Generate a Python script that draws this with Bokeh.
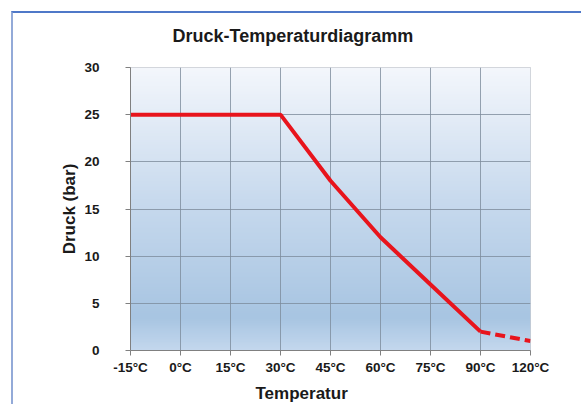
import numpy as np
from bokeh.plotting import figure
from bokeh.models import Range1d, FixedTicker, Title
from bokeh.embed import file_html
from bokeh.resources import INLINE

# data
temp_labels = ["-15°C", "0°C", "15°C", "30°C", "45°C", "60°C", "75°C", "90°C", "120°C"]
temp_pos = list(range(len(temp_labels)))
pressure_solid = [25, 25, 25, 25, 18, 12, 7, 2]
pressure_dashed = [2, 1]
y_ticks = [0, 5, 10, 15, 20, 25, 30]

FONT = "Liberation Sans"

p = figure(width=570, height=393, output_backend="svg", toolbar_location=None,
           x_range=Range1d(0, 8), y_range=Range1d(0, 30),
           min_border_left=117, min_border_top=54, min_border_bottom=56, min_border_right=53)
p.styles = {"margin-left": "11px", "margin-top": "11px",
            "border-left": "2px solid #93aad8", "border-top": "2px solid #4f78c8"}

# gradient background
n = 300
yy = np.linspace(0, 30, n)
stops_y = [0, 3.5, 16, 30]
stops_c = [(0xc4, 0xd8, 0xee), (0xa8, 0xc5, 0xe2), (0xc8, 0xda, 0xee), (0xf4, 0xf7, 0xfc)]
img = np.zeros((n, 1), dtype=np.uint32)
view = img.view(dtype=np.uint8).reshape((n, 1, 4))
for ch in range(3):
    view[:, 0, ch] = np.interp(yy, stops_y, [c[ch] for c in stops_c]).astype(np.uint8)
view[:, 0, 3] = 255
p.image_rgba(image=[img], x=0, y=0, dw=8, dh=30, level="image")

p.line(temp_pos[:8], pressure_solid, line_color="#e8141c", line_width=4)
p.line(temp_pos[7:], pressure_dashed, line_color="#e8141c", line_width=4, line_dash="10 5")

p.xaxis.ticker = FixedTicker(ticks=temp_pos)
p.xaxis.major_label_overrides = {i: t for i, t in zip(temp_pos, temp_labels)}
p.yaxis.ticker = FixedTicker(ticks=y_ticks)
p.xgrid.ticker = FixedTicker(ticks=temp_pos)
p.ygrid.ticker = FixedTicker(ticks=y_ticks)
p.grid.grid_line_color = "#7d8c9c"
p.grid.grid_line_alpha = 0.8
p.grid.grid_line_width = 1
p.grid.level = "underlay"

for ax in (p.xaxis, p.yaxis):
    ax.axis_line_color = "#808080"
    ax.major_tick_line_color = "#808080"
    ax.minor_tick_line_color = None
    ax.major_tick_out = 5
    ax.major_tick_in = 0
    ax.major_label_text_font = FONT
    ax.major_label_text_font_style = "bold"
    ax.major_label_text_font_size = "13.5px"
    ax.major_label_text_color = "#1a1a1a"
p.xaxis.major_label_standoff = 4
p.yaxis.major_label_standoff = 26

p.yaxis.axis_label = "Druck (bar)"
p.yaxis.axis_label_text_font = FONT
p.yaxis.axis_label_text_font_style = "bold"
p.yaxis.axis_label_text_font_size = "17px"
p.yaxis.axis_label_text_color = "#1a1a1a"
p.yaxis.axis_label_standoff = 2

p.outline_line_color = "#c8ccd2"

# trailing empty line reserves space so the title sits near the top edge
p.title.text = "Druck-Temperaturdiagramm\n"
p.title.align = "left"
p.title.vertical_align = "top"
p.title.offset = 42
p.title.text_font = FONT
p.title.text_font_style = "bold"
p.title.text_font_size = "18px"
p.title.text_color = "#1a1a1a"
p.title.standoff = 0

p.add_layout(Title(text="Temperatur", align="left", vertical_align="bottom", offset=125,
                   text_font=FONT, text_font_style="bold", text_font_size="17px",
                   text_color="#1a1a1a", standoff=8), "below")

open("out.html", "w").write(file_html(p, INLINE))
